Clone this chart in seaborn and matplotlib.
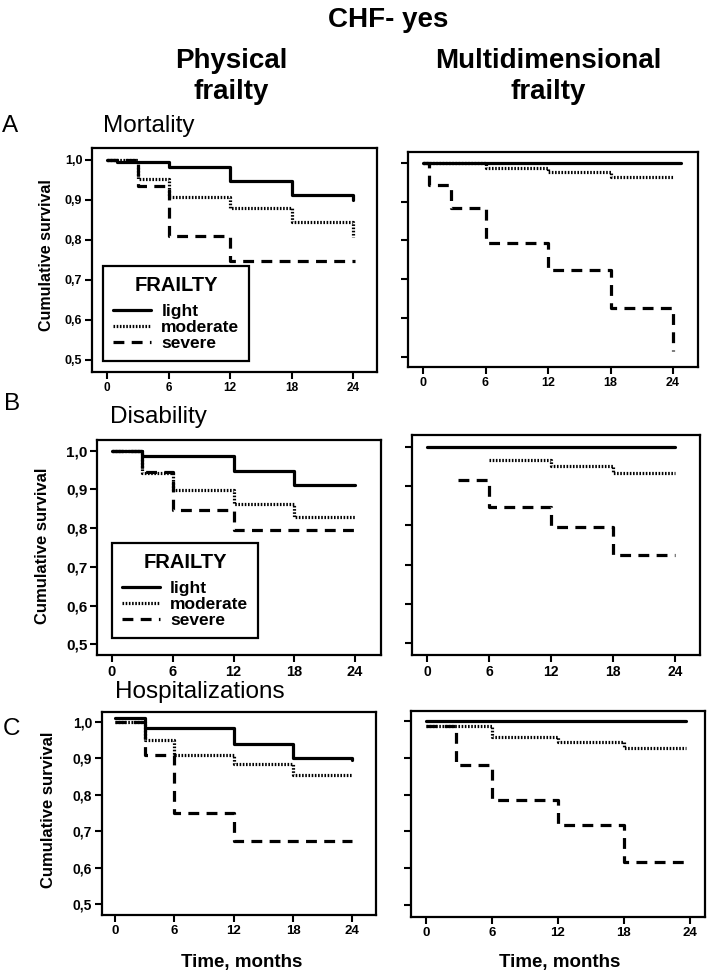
import matplotlib
matplotlib.use("Agg")
import matplotlib.pyplot as plt
import seaborn as sns
import pandas as pd
from matplotlib.lines import Line2D

sns.set_theme(style="white")
plt.rcParams['font.family'] = ['Liberation Sans', 'DejaVu Sans']
plt.rcParams['text.color'] = 'black'
plt.rcParams['axes.labelcolor'] = 'black'
plt.rcParams['xtick.color'] = 'black'
plt.rcParams['ytick.color'] = 'black'

groups = ["light", "moderate", "severe"]
x_ticks = [0, 6, 12, 18, 24]
y_ticks = [0.5, 0.6, 0.7, 0.8, 0.9, 1.0]
y_tick_labels = ["0,5", "0,6", "0,7", "0,8", "0,9", "1,0"]

# ---- A: Mortality, physical frailty
mort_phys_light_t = [0, 1, 6, 12, 18, 24]
mort_phys_light_s = [1.0, 0.994, 0.982, 0.948, 0.912, 0.900]
mort_phys_mod_t = [0, 3, 6, 12, 18, 24]
mort_phys_mod_s = [1.0, 0.952, 0.908, 0.879, 0.846, 0.808]
mort_phys_sev_t = [0, 3, 6, 12, 24.2]
mort_phys_sev_s = [1.0, 0.935, 0.810, 0.748, 0.748]

# ---- A: Mortality, multidimensional frailty
mort_multi_light_t = [0, 24.8]
mort_multi_light_s = [1.0, 1.0]
mort_multi_mod_t = [0, 6, 12, 18, 24]
mort_multi_mod_s = [1.0, 0.987, 0.976, 0.963, 0.963]
mort_multi_sev_t = [0, 0.6, 2.7, 6, 12, 18, 24]
mort_multi_sev_s = [1.0, 0.942, 0.884, 0.793, 0.724, 0.626, 0.515]

# ---- B: Disability, physical frailty
dis_phys_light_t = [0, 3, 12, 18, 24]
dis_phys_light_s = [1.0, 0.986, 0.948, 0.912, 0.912]
dis_phys_mod_t = [0, 3, 6, 12, 18, 24]
dis_phys_mod_s = [1.0, 0.942, 0.898, 0.862, 0.828, 0.828]
dis_phys_sev_t = [0, 3, 6, 12, 24]
dis_phys_sev_s = [1.0, 0.945, 0.847, 0.794, 0.794]

# ---- B: Disability, multidimensional frailty
dis_multi_light_t = [0, 24]
dis_multi_light_s = [1.0, 1.0]
dis_multi_mod_t = [6, 12, 18, 24]
dis_multi_mod_s = [0.968, 0.952, 0.935, 0.935]
dis_multi_sev_t = [3, 6, 12, 18, 24]
dis_multi_sev_s = [0.917, 0.846, 0.797, 0.725, 0.725]

# ---- C: Hospitalizations, physical frailty
hosp_phys_light_t = [0, 3, 12, 18, 24]
hosp_phys_light_s = [1.01, 0.982, 0.940, 0.900, 0.895]
hosp_phys_mod_t = [0, 3, 6, 12, 18, 24]
hosp_phys_mod_s = [1.0, 0.949, 0.908, 0.883, 0.853, 0.853]
hosp_phys_sev_t = [0, 3, 6, 12, 24]
hosp_phys_sev_s = [1.0, 0.910, 0.750, 0.674, 0.674]

# ---- C: Hospitalizations, multidimensional frailty
hosp_multi_light_t = [0, 23.7]
hosp_multi_light_s = [1.0, 1.0]
hosp_multi_mod_t = [0, 6, 12, 18, 23.7]
hosp_multi_mod_s = [0.986, 0.956, 0.942, 0.926, 0.926]
hosp_multi_sev_t = [0, 2.7, 6, 12, 18, 23.7]
hosp_multi_sev_s = [0.985, 0.879, 0.784, 0.716, 0.616, 0.616]


def make_df(light, mod, sev):
    rows = []
    for g, (t, s) in zip(groups, [light, mod, sev]):
        for ti, si in zip(t, s):
            rows.append({"t": ti, "s": si, "group": g})
    return pd.DataFrame(rows)


panels = [
    (make_df((mort_phys_light_t, mort_phys_light_s), (mort_phys_mod_t, mort_phys_mod_s),
             (mort_phys_sev_t, mort_phys_sev_s)),
     (92, 148, 377, 372), (-1.46, 26.3), (0.47, 1.03), True, 8.5),
    (make_df((mort_multi_light_t, mort_multi_light_s), (mort_multi_mod_t, mort_multi_mod_s),
             (mort_multi_sev_t, mort_multi_sev_s)),
     (408, 152, 698, 367), (-1.44, 26.4), (0.474, 1.028), False, 9),
    (make_df((dis_phys_light_t, dis_phys_light_s), (dis_phys_mod_t, dis_phys_mod_s),
             (dis_phys_sev_t, dis_phys_sev_s)),
     (97, 440, 381, 655), (-1.48, 26.56), (0.472, 1.028), True, 10.5),
    (make_df((dis_multi_light_t, dis_multi_light_s), (dis_multi_mod_t, dis_multi_mod_s),
             (dis_multi_sev_t, dis_multi_sev_s)),
     (412, 435, 700, 655), (-1.45, 26.4), (0.469, 1.031), False, 10),
    (make_df((hosp_phys_light_t, hosp_phys_light_s), (hosp_phys_mod_t, hosp_phys_mod_s),
             (hosp_phys_sev_t, hosp_phys_sev_s)),
     (102, 712, 376, 915), (-1.32, 26.4), (0.47, 1.027), True, 9.5),
    (make_df((hosp_multi_light_t, hosp_multi_light_s), (hosp_multi_mod_t, hosp_multi_mod_s),
             (hosp_multi_sev_t, hosp_multi_sev_s)),
     (411, 711, 705, 917), (-1.36, 25.4), (0.467, 1.027), False, 9.5),
]

W, H = 709, 972
fig = plt.figure(figsize=(W / 100, H / 100), dpi=100)

LW = 2.3
dash_map = {"light": "", "moderate": (0.5, 0.5), "severe": (3.4, 2.3)}

axes = []
for df, (x0, yt, x1, yb), xlim, ylim, left, tfs in panels:
    ax = fig.add_axes([x0 / W, 1 - yb / H, (x1 - x0) / W, (yb - yt) / H])
    sns.lineplot(data=df, x="t", y="s", style="group", style_order=groups,
                 dashes=dash_map, color="black", estimator=None, sort=False,
                 drawstyle="steps-post", linewidth=LW, legend=False, ax=ax)
    ax.set_xlim(*xlim)
    ax.set_ylim(*ylim)
    ax.set_xticks(x_ticks)
    ax.set_xticklabels([str(v) for v in x_ticks], fontsize=tfs, fontweight="bold")
    ax.set_yticks(y_ticks)
    if left:
        ax.set_yticklabels(y_tick_labels, fontsize=tfs + 0.5, fontweight="bold")
    else:
        ax.set_yticklabels([])
    ax.set_xlabel("")
    ax.set_ylabel("")
    ax.grid(False)
    for sp in ax.spines.values():
        sp.set_color("black")
        sp.set_linewidth(1.6)
        sp.set_visible(True)
    ax.tick_params(bottom=True, left=True, direction="out", length=5, width=1.5,
                   colors="black", pad=2)
    axes.append(ax)


def add_legend(ax, anchor, fs, tfs):
    handles = [Line2D([], [], color="black", lw=LW, linestyle="-"),
               Line2D([], [], color="black", lw=LW, dashes=dash_map["moderate"]),
               Line2D([], [], color="black", lw=LW, dashes=dash_map["severe"])]
    leg = ax.legend(handles, groups, title="FRAILTY", loc="lower left",
                    bbox_to_anchor=anchor, frameon=True, fancybox=False,
                    edgecolor="black", framealpha=1,
                    prop={"weight": "bold", "size": fs},
                    title_fontproperties={"weight": "bold", "size": tfs},
                    handlelength=2.2, labelspacing=0.05, borderpad=0.55,
                    handletextpad=0.6, borderaxespad=0)
    leg.get_title().set_color("black")
    leg._legend_box.sep = 7
    leg.get_frame().set_linewidth(1.6)
    return leg

add_legend(axes[0], (0.039, 0.049), 12.5, 14.5)
add_legend(axes[2], (0.053, 0.079), 12.5, 14.5)

fig.text(388 / W, 1 - 27 / H, "CHF- yes", ha="center", va="baseline",
         fontsize=20, fontweight="bold")
for cx, lines in [(231, ["Physical", "frailty"]), (548, ["Multidimensional", "frailty"])]:
    fig.text(cx / W, 1 - 68 / H, lines[0], ha="center", va="baseline",
             fontsize=20, fontweight="bold")
    fig.text(cx / W, 1 - 99 / H, lines[1], ha="center", va="baseline",
             fontsize=20, fontweight="bold")

for letter, lx, ly, name, nx, ny in [("A", 2, 132, "Mortality", 103, 132),
                                      ("B", 4, 410, "Disability", 110, 423),
                                      ("C", 3, 735, "Hospitalizations", 115, 698)]:
    fig.text(lx / W, 1 - ly / H, letter, ha="left", va="baseline", fontsize=17.5)
    fig.text(nx / W, 1 - ny / H, name, ha="left", va="baseline", fontsize=17.5)

for cx, cy, fs in [(47, 255, 11.5), (43, 546, 12), (48.5, 810, 12)]:
    fig.text(cx / W, 1 - cy / H, "Cumulative survival", rotation=90,
             ha="center", va="center", fontsize=fs, fontweight="bold")

for cx in [242, 560]:
    fig.text(cx / W, 1 - 967 / H, "Time, months", ha="center", va="baseline",
             fontsize=13.5, fontweight="bold")

fig.savefig("out.png", dpi=100, facecolor="white")
